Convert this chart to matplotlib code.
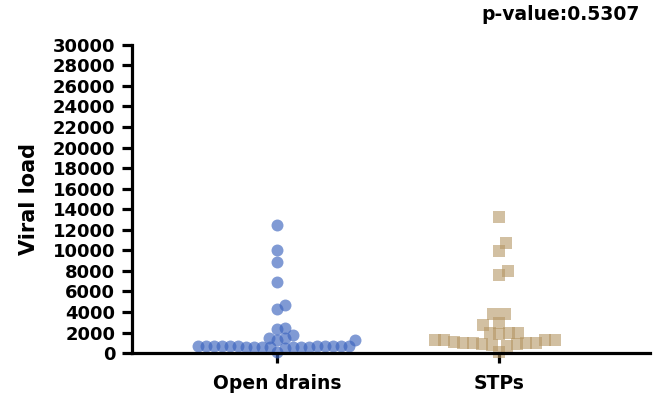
import numpy as np
import matplotlib
matplotlib.use("Agg")
import matplotlib.pyplot as plt

# 数据
groups = ["Open drains", "STPs"]
open_drains = [12500, 10000, 8900, 6900, 4700, 4300, 2300, 2450, 1500, 1250, 1750,
               1300, 1450, 100, 500, 650, 700, 600, 680, 720, 620, 660, 700, 640,
               580, 690, 710, 630, 670, 600, 650, 700, 560]
stps = [13200, 10700, 9900, 8000, 7600, 3800, 3800, 2950, 2750, 2000, 2000, 1950,
        1850, 1250, 1250, 1250, 1300, 100, 950, 950, 950, 1000, 1050, 900, 850,
        800, 700]
y_ticks = list(range(0, 30001, 2000))
p_text = "p-value:0.5307"


def swarm(ax, vals, center, wx, wy):
    """简单的蜂群排布，像素坐标下按椭圆距离避免重叠"""
    vals = np.asarray(vals, dtype=float)
    pts = ax.transData.transform(np.column_stack([np.full(len(vals), center), vals]))
    xs = np.zeros(len(vals))
    placed = []
    for i in np.argsort(vals, kind="stable"):
        x0, y0 = pts[i]
        best = None
        for k in range(0, 800):
            for sgn in (1, -1):
                off = sgn * k * 0.5
                if all(((x0 + off - px) / wx) ** 2 + ((y0 - py) / wy) ** 2 >= 1 for px, py in placed):
                    best = off
                    break
            if best is not None:
                break
        placed.append((x0 + best, y0))
        xs[i] = x0 + best
    back = ax.transData.inverted().transform(np.column_stack([xs, pts[:, 1]]))
    return back[:, 0]


def main():
    plt.rcParams['font.family'] = ['DejaVu Sans']
    plt.rcParams['font.weight'] = 'bold'

    fig = plt.figure(figsize=(6.6, 4.04), dpi=100)
    ax = fig.add_axes([0.2, 0.126, 0.785, 0.763])
    ax.set_xlim(-0.653, 1.68)
    ax.set_ylim(0, 30000)

    x1 = swarm(ax, open_drains, 0, 8.0, 9.0)
    x2 = swarm(ax, stps, 1, 9.5, 11.0)

    ax.scatter(x1, open_drains, s=74, marker='o', color=(60/255, 100/255, 190/255),
               alpha=0.65, linewidths=0, clip_on=False, zorder=2)
    ax.scatter(x2, stps, s=75, marker='s', color=(180/255, 150/255, 100/255),
               alpha=0.6, linewidths=0, clip_on=False, zorder=2)

    ax.set_xticks([0, 1])
    ax.set_xticklabels(groups, fontsize=13.5, fontweight='bold')
    ax.set_yticks(y_ticks)
    ax.set_yticklabels([str(t) for t in y_ticks], fontsize=13, fontweight='bold')
    ax.set_ylabel("Viral load", fontsize=15, fontweight='bold', labelpad=10)

    for side in ['top', 'right']:
        ax.spines[side].set_visible(False)
    for side in ['left', 'bottom']:
        ax.spines[side].set_linewidth(2.3)
        ax.spines[side].set_zorder(3)
    ax.tick_params(axis='both', width=2.3, length=7, color='black')
    ax.tick_params(axis='y', pad=5)
    ax.tick_params(axis='x', pad=8)

    fig.text(0.97, 0.963, p_text, ha='right', va='center', fontsize=13.5, fontweight='bold')

    plt.savefig("out.png", dpi=100)


if __name__ == '__main__':
    main()
